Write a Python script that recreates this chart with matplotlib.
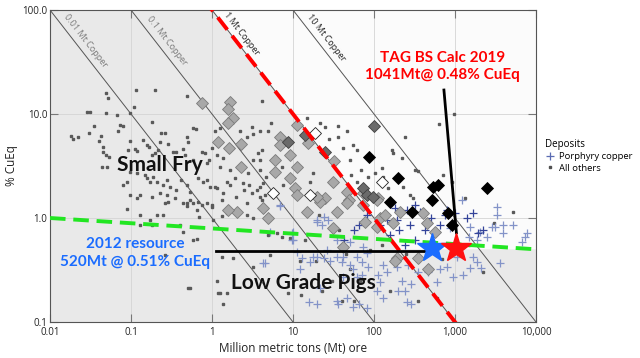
import numpy as np
import matplotlib.pyplot as plt
from matplotlib.lines import Line2D

# tonnage (Mt ore) and grade (% CuEq)
others_t = [0.115, 0.2, 0.049, 0.052, 0.49, 0.109, 0.029, 0.031, 0.049, 0.067, 0.097, 0.035, 0.073, 0.079,
            0.18, 0.030, 0.069, 0.018, 0.019, 0.022, 0.043, 0.040, 0.097, 0.141, 0.235, 0.26, 0.23, 0.29,
            0.49, 0.58, 0.63, 0.045, 0.045, 0.049, 0.053, 0.092, 0.112, 0.119, 0.158, 0.167, 0.18, 0.2,
            0.215, 0.33, 0.36, 0.44, 0.46, 0.5, 0.58, 0.75, 0.82, 0.87, 0.92, 0.044, 0.051, 0.097, 0.119,
            0.149, 0.158, 0.17, 0.187, 0.21, 0.25, 0.28, 0.3, 0.36, 0.41, 0.49, 0.53, 0.67, 0.87, 0.94,
            0.097, 0.129, 0.12, 0.18, 0.23, 0.28, 0.35, 0.53, 0.67, 0.87, 0.089, 0.079,
            4.1, 5.3, 3.1, 3.9, 3.2, 1.09, 1.26, 2.2, 2.7, 4.9, 1.0, 1.15, 1.37, 1.26, 1.67, 1.92, 2.8,
            3.2, 3.9, 3.7, 4.2, 3.9, 4.7, 2.9, 2.45, 3.1, 2.0, 1.37, 1.09, 1.53, 3.9, 4.5, 4.1, 7.3, 7.6,
            16.2, 17.7,
            0.49, 0.77, 1.0, 1.33, 1.15, 1.67, 2.4, 3.6, 4.3, 2.7, 1.33, 1.15, 1.26, 0.53, 3.9,
            0.089, 0.129, 0.17, 0.21, 0.25, 0.26, 0.29, 0.129, 0.18, 0.44, 0.49, 0.58, 0.65, 0.7, 0.76,
            0.4, 0.44, 0.58, 0.65, 0.5, 0.26,
            1.0, 1.03, 1.33, 1.53, 2.7, 3.2, 4.9, 6.3, 7.3, 9.2, 1.19, 1.53, 1.8, 3.2, 5.2, 8.7, 12.5, 23,
            40, 1.37, 12.2,
            21, 37, 51, 68, 14, 19, 57, 88, 158, 350, 125, 250, 700, 1500, 3000, 5200, 2200, 600, 30, 45,
            14.9, 21.5, 24.8, 36, 28, 36, 46, 41, 55, 61, 51, 69, 52, 61, 85, 970, 630, 240, 167, 172,
            220, 126, 320, 350, 103, 130, 228, 150, 278, 710, 915, 1330, 300]
others_g = [17, 17, 15.8, 14.2, 14.9, 11.6, 10.4, 10.4, 10.2, 9.8, 10.2, 7.6, 7.8, 7.6,
            8.4, 6.6, 6.8, 6.1, 5.75, 6.0, 6.1, 5.5, 5.5, 5.6, 6.6, 6.6, 5.4, 5.2,
            6.0, 7.3, 7.2, 4.8, 4.3, 4.0, 3.9, 4.5, 4.6, 4.4, 5.0, 4.8, 4.0, 4.2,
            4.5, 4.3, 4.3, 4.6, 4.0, 5.4, 3.6, 4.3, 4.2, 3.35, 3.6, 3.1, 3.1, 2.75, 2.7,
            2.6, 2.4, 2.2, 2.5, 2.2, 2.07, 2.3, 2.0, 1.86, 2.3, 2.07, 1.78, 2.4, 2.3, 2.0,
            1.66, 1.66, 1.55, 1.6, 1.74, 1.66, 1.55, 1.49, 1.42, 1.39, 2.2, 2.07,
            13.3, 8.2, 7.5, 6.9, 6.4, 6.9, 7.3, 6.8, 6.0, 6.8, 4.7, 4.0, 3.8, 3.1, 2.9, 2.4, 2.7,
            3.6, 3.6, 4.2, 4.5, 2.9, 2.5, 2.07, 1.86, 1.74, 1.6, 1.74, 2.0, 2.2, 2.0, 1.66, 1.49, 3.1, 2.07,
            2.2, 2.7,
            1.39, 2.2, 1.33, 1.49, 1.95, 2.07, 2.17, 1.86, 2.17, 1.39, 0.42, 0.25, 0.19, 0.21, 1.6,
            1.22, 1.07, 0.96, 1.07, 1.07, 1.39, 1.42, 0.86, 0.86, 1.39, 1.3, 1.39, 1.19, 1.02, 1.33,
            0.86, 0.73, 0.61, 0.63, 0.21, 0.44,
            1.27, 0.96, 1.04, 1.12, 1.07, 1.0, 0.69, 0.72, 0.66, 0.64, 0.19, 0.19, 0.41, 0.34, 0.44, 0.19, 0.18, 0.2,
            0.16, 0.15, 0.39,
            1.07, 0.77, 0.32, 0.25, 0.61, 0.39, 0.16, 0.49, 0.2, 0.16, 0.55, 0.45, 0.4, 0.55, 0.9, 1.14, 0.3, 0.17, 0.25, 0.45,
            9.15, 8.2, 7.5, 7.6, 5.8, 6.0, 6.8, 4.7, 5.0, 4.5, 3.6, 2.9, 2.6, 2.2, 2.5, 10, 8.0, 6.0, 4.5, 4.2,
            3.8, 3.0, 2.9, 2.8, 2.7, 2.5, 2.0, 1.95, 1.66, 2.6, 2.2, 1.55, 1.55]

porph_t = [4.3, 6.9, 9.7, 9.7, 12.2, 12.9, 16.2, 17.7, 20, 23, 24, 27, 24, 29, 35, 41, 40, 51, 61, 71, 82,
           85, 55, 41, 61, 71, 15.6, 20, 35, 47, 55, 82, 11.2, 26, 35, 51, 73,
           3300, 3300, 3900, 5200, 3100, 7700, 7300, 6700, 3900, 2480, 1850, 1530, 870, 1060, 800, 600,
           465, 650, 350, 260, 192, 145, 130, 112, 220, 198, 240, 290, 109, 130, 1660, 950, 1530, 1850,
           1230, 2050, 2900, 1480, 3600, 1250, 2100, 255, 36, 118, 6.9, 5.2, 10, 10, 4.5, 20, 20, 21.5,
           66, 290]
porph_g = [0.37, 1.3, 0.72, 0.61, 0.32, 0.41, 0.38, 0.42, 0.96, 0.86, 1.02, 0.96, 0.41, 0.39, 0.42, 0.42,
           0.38, 0.35, 0.42, 0.38, 0.46, 0.34, 0.32, 0.27, 0.27, 0.28, 0.155, 0.15, 0.16, 0.17, 0.14, 0.136,
           0.47, 0.49, 0.61, 0.59, 0.53,
           1.27, 1.07, 0.86, 0.86, 0.82, 0.72, 0.66, 0.59, 0.72, 0.66, 0.61, 0.82, 0.8, 0.42, 0.34, 0.24,
           0.3, 0.32, 0.3, 0.35, 0.34, 0.3, 0.35, 0.28, 0.25, 0.2, 0.2, 0.23, 0.2, 0.17, 0.42, 0.27, 0.33, 0.38,
           1.49, 0.73, 0.82, 0.66, 0.37, 0.28, 0.33, 0.155, 0.15, 0.24, 1.33, 0.73, 0.73, 0.61, 0.37, 0.915, 0.42, 0.21,
           0.15, 0.15]

# the dense dark-blue porphyry cluster near the resource
porph_dark_t = [180, 255, 320, 370, 145, 192, 278, 118, 205, 430, 510, 650, 750, 158, 320, 240, 525, 82, 66, 57, 43,
                800, 1410, 1660, 1950, 2200, 1000]
porph_dark_g = [1.25, 1.19, 1.33, 1.14, 0.96, 0.96, 0.86, 0.86, 0.77, 0.77, 1.0, 0.86, 1.07, 0.69, 0.61, 0.55,
                0.55, 1.07, 0.86, 0.77, 0.61, 1.19, 1.0, 1.12, 0.72, 0.77, 1.12]

grey_dia_t = [0.76, 1.67, 1.58, 1.82, 1.58, 1.19, 1.62, 2.28, 2.28, 6.9, 6.9, 9.2, 6.0, 11.2, 6.0, 11.2, 15.3,
              9.2, 32, 31, 10.6, 11.2, 24.8, 46, 49, 112, 2.03, 4.3, 4.9, 14.9, 21.5, 35, 47, 109, 73, 77, 118,
              210, 400, 450, 565, 31, 41, 109, 192, 465, 350, 137, 172, 180, 20, 73, 1.58]
grey_dia_g = [12.7, 13, 11.2, 9.2, 8.2, 5.4, 4.7, 5.15, 3.1, 6.0, 5.0, 4.0, 3.6, 3.1, 2.75, 7.8, 5.3,
              2.4, 3.5, 2.2, 1.95, 1.66, 1.55, 1.78, 1.49, 1.55, 1.14, 1.25, 1.0, 1.14, 1.42, 1.14, 1.39, 1.49,
              1.33, 0.915, 1.0, 1.14, 1.12, 0.895, 0.73, 0.80, 0.53, 0.82, 0.41, 0.32, 0.41, 1.07, 0.895, 0.39,
              1.59, 1.74, 1.19]
dark_dia_t = [8.7, 14.1, 24.8, 73, 82, 98, 100]
dark_dia_g = [5.4, 6.3, 4.3, 1.95, 1.66, 1.58, 7.6]
black_dia_t = [87, 198, 617, 540, 2480, 158, 525, 295, 820, 915]
black_dia_g = [3.9, 2.4, 2.07, 1.98, 1.95, 1.42, 1.49, 1.14, 1.12, 0.86]
open_dia_t = [18.8, 5.7, 16.2, 126]
open_dia_g = [6.6, 1.74, 1.66, 2.2]

# contained copper lines (Mt Cu) and where their labels begin
cu_lines = [0.01, 0.1, 1, 10]
cu_label_t = [0.0126, 0.133, 1.22, 12.8]

resource_2012 = (520, 0.51)
calc_2019 = (1041, 0.52)
cutoff_t = [0.01, 10000]
cutoff_g = [1.0, 0.5]

xticks = [0.01, 0.1, 1, 10, 100, 1000, 10000]
xticklabels = ['0.01', '0.1', '1', '10', '100', '1,000', '10,000']
yticks = [0.1, 1, 10, 100]
yticklabels = ['0.1', '1.0', '10.0', '100.0']

plt.rcParams['font.family'] = ['Open Sans', 'DejaVu Sans']

fig = plt.figure(figsize=(6.4, 3.58), dpi=100)
ax = fig.add_axes([50 / 640, 1 - 322 / 358, 486 / 640, 312 / 358])
ax.set_xscale('log')
ax.set_yscale('log')
ax.set_xlim(0.01, 10000)
ax.set_ylim(0.1, 100)
ax.set_facecolor('#e9e9e9')

# lighter zone: >1 Mt contained copper and grade above 0.5%
ax.fill([1, 200, 10000, 10000], [100, 0.5, 0.5, 100], color='#fbfbfb', zorder=0, lw=0)

ax.grid(True, which='both', color='#d4d4d4', lw=0.6, zorder=0.5)
ax.set_axisbelow(True)

xs = np.array([0.01, 10000])
fig.canvas.draw()
for cu, lt in zip(cu_lines, cu_label_t):
    ax.plot(xs, cu * 100 / xs, color='#555555', lw=0.7, zorder=1)
    p1 = ax.transData.transform((1, cu * 100))
    p2 = ax.transData.transform((10, cu * 10))
    ang = np.degrees(np.arctan2(p2[1] - p1[1], p2[0] - p1[0]))
    col = '#7a7a7a' if cu < 1 else '#222222'
    lab = ('%g' % cu) + ' Mt Copper'
    ax.annotate(lab, (lt, cu * 100 / lt), xytext=(2.5, 2), textcoords='offset points',
                rotation=ang, rotation_mode='anchor', ha='left', va='bottom',
                fontsize=6.5, color=col, zorder=2)

ax.plot(others_t, others_g, ls='none', marker='s', ms=1.5, color='#5a5a5a', zorder=2)
ax.plot(porph_t, porph_g, ls='none', marker='+', ms=6, mew=0.9, color='#8393c8', zorder=3)
ax.plot(porph_dark_t, porph_dark_g, ls='none', marker='+', ms=6, mew=0.9, color='#34449a', zorder=3)

ax.plot(grey_dia_t, grey_dia_g, ls='none', marker='D', ms=6.5, mfc='#a8a8a8', mec='#7a7a7a', mew=0.6, zorder=4)
ax.plot(dark_dia_t, dark_dia_g, ls='none', marker='D', ms=6.5, mfc='#6a6a6a', mec='#404040', mew=0.6, zorder=4)
ax.plot(open_dia_t, open_dia_g, ls='none', marker='D', ms=6.5, mfc='white', mec='#222222', mew=0.6, zorder=4)
ax.plot(black_dia_t, black_dia_g, ls='none', marker='D', ms=6.5, mfc='black', mec='black', mew=0.6, zorder=4)

# 1 Mt copper line in red, grade trend in green
ax.plot(xs, 100 / xs, color='red', lw=2.8, ls=(0, (4, 2)), zorder=5)
ax.plot(cutoff_t, cutoff_g, color='#22e622', lw=2.8, ls=(0, (4, 2)), zorder=5)

# pointer lines
ax.plot([1.12, resource_2012[0]], [0.48, 0.48], color='black', lw=2, zorder=6)
ax.plot([730, calc_2019[0]], [17, 0.72], color='black', lw=2, zorder=6)

ax.plot(*resource_2012, marker='*', ms=22, color='#1a6cff', mec='#1a6cff', zorder=7)
ax.plot(*calc_2019, marker='*', ms=22, color='#ff1010', mec='#ff1010', zorder=7)

big = dict(family=['Lato', 'DejaVu Sans'], fontweight='bold', ha='center', va='center', zorder=8)
ax.text(0.228, 3.2, 'Small Fry', fontsize=15, color='#111111', **big)
ax.text(13.3, 0.237, 'Low Grade Pigs', fontsize=15, color='#111111', **big)
ax.text(0.112, 0.46, '2012 resource\n520Mt @ 0.51% CuEq', fontsize=11, color='#1a6cff', linespacing=1.35, **big)
ax.text(708, 28.6, 'TAG BS Calc 2019\n1041Mt@ 0.48% CuEq', fontsize=11, color='#ff0000', linespacing=1.35, **big)

ax.set_xticks(xticks)
ax.set_xticklabels(xticklabels)
ax.set_yticks(yticks)
ax.set_yticklabels(yticklabels)
ax.minorticks_off()
ax.tick_params(which='major', direction='in', length=6, color='#777777', labelsize=7,
               labelcolor='#222222', top=True, right=True)
ax.tick_params(axis='x', pad=3.5)
ax.tick_params(axis='y', pad=2)
for s in ax.spines.values():
    s.set_color('#555555')
    s.set_linewidth(0.8)

ax.set_xlabel('Million metric tons (Mt) ore', fontsize=8.5, color='#222222', labelpad=3)
ax.set_ylabel('% CuEq', fontsize=8.5, color='#222222', labelpad=3)

handles = [Line2D([], [], ls='none', marker='+', ms=6, mew=0.9, color='#5b6cb3'),
           Line2D([], [], ls='none', marker='s', ms=1.8, color='#505050')]
leg = fig.legend(handles, ['Porphyry copper', 'All others'], title='Deposits', loc='upper left',
                 bbox_to_anchor=(0.852, 0.612), frameon=False, fontsize=6.8, title_fontsize=7,
                 handlelength=1.0, handletextpad=0.4, labelspacing=0.25, borderpad=0, borderaxespad=0)
leg._legend_box.align = 'left'

fig.savefig('out.png', dpi=100)
